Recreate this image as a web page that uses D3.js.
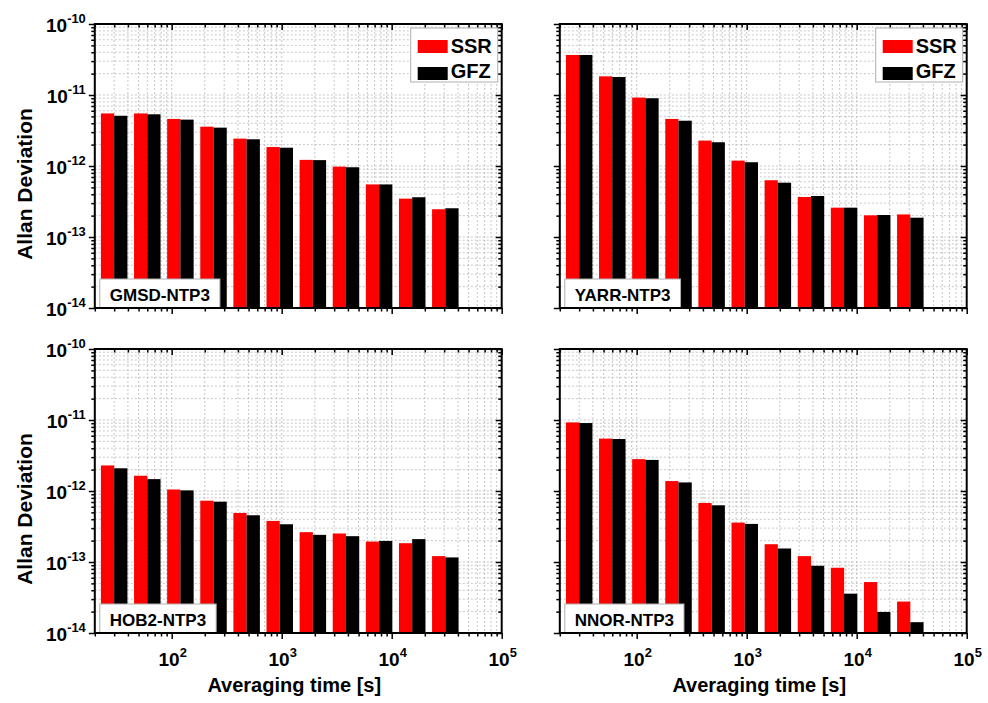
<!DOCTYPE html>
<html>
<head>
<meta charset="utf-8">
<script src="https://cdn.jsdelivr.net/npm/d3@7"></script>
<style>
  html, body { margin: 0; padding: 0; background: #fff; }
  svg { display: block; font-family: "Liberation Sans", Arial, Helvetica, sans-serif; }
</style>
</head>
<body>
<svg id="chart" width="988" height="703"></svg>
<script>
// Averaging times (s) of the bar groups
const tau = [30, 60, 120, 240, 480, 960, 1920, 3840, 7680, 15360, 30720];

// Series
const seriesNames = ["SSR", "GFZ"];
const seriesColors = ["#ff0000", "#000000"];

// Station panels
const stations = ["GMSD-NTP3", "YARR-NTP3", "HOB2-NTP3", "NNOR-NTP3"];

// Allan deviation values per station
const gmsdSSR = [5.5e-12, 5.5e-12, 4.6e-12, 3.58e-12, 2.43e-12, 1.85e-12, 1.22e-12, 9.8e-13, 5.5e-13, 3.47e-13, 2.46e-13];
const gmsdGFZ = [5.1e-12, 5.35e-12, 4.5e-12, 3.47e-12, 2.38e-12, 1.81e-12, 1.21e-12, 9.6e-13, 5.5e-13, 3.63e-13, 2.54e-13];

const yarrSSR = [3.66e-11, 1.83e-11, 9.2e-12, 4.6e-12, 2.28e-12, 1.19e-12, 6.3e-13, 3.66e-13, 2.59e-13, 2.02e-13, 2.08e-13];
const yarrGFZ = [3.66e-11, 1.79e-11, 9.0e-12, 4.34e-12, 2.16e-12, 1.13e-12, 5.82e-13, 3.78e-13, 2.59e-13, 2.04e-13, 1.87e-13];

const hob2SSR = [2.29e-12, 1.64e-12, 1.05e-12, 7.3e-13, 4.9e-13, 3.79e-13, 2.63e-13, 2.52e-13, 1.94e-13, 1.84e-13, 1.21e-13];
const hob2GFZ = [2.09e-12, 1.47e-12, 1.02e-12, 7.07e-13, 4.55e-13, 3.4e-13, 2.41e-13, 2.31e-13, 1.98e-13, 2.1e-13, 1.16e-13];

const nnorSSR = [9.25e-12, 5.47e-12, 2.81e-12, 1.38e-12, 6.78e-13, 3.59e-13, 1.78e-13, 1.21e-13, 8.3e-14, 5.22e-14, 2.77e-14];
const nnorGFZ = [9.06e-12, 5.4e-12, 2.74e-12, 1.32e-12, 6.29e-13, 3.44e-13, 1.55e-13, 8.85e-14, 3.58e-14, 1.98e-14, 1.42e-14];

const panelSeries = [
  [gmsdSSR, gmsdGFZ],
  [yarrSSR, yarrGFZ],
  [hob2SSR, hob2GFZ],
  [nnorSSR, nnorGFZ]
];

// Axis tick labels (powers of ten)
const xTickExponents = [2, 3, 4, 5];
const yTickExponents = [-10, -11, -12, -13, -14];

const xTitle = "Averaging time [s]";
const yTitle = "Allan Deviation";

// ---- layout ----
const svg = d3.select("#chart");
const colX = [94.8, 559.8];
const rowY = [24, 349];
const plotW = 406.9;
const plotH = 284;
const xDomain = [20, 1e5];
const yDomain = [1e-14, 1e-10];
const barFrac = 0.4;   // bar width as fraction of the factor-of-two spacing

// tick value lists
const xMinor = [], yMinor = [];
for (let e = 1; e <= 4; e++) for (let m = 2; m <= 9; m++) {
  const v = m * Math.pow(10, e);
  if (v >= xDomain[0] && v <= xDomain[1]) xMinor.push(v);
}
for (let e = -14; e <= -11; e++) for (let m = 2; m <= 9; m++) yMinor.push(m * Math.pow(10, e));
const xMajor = xTickExponents.map(e => Math.pow(10, e));
const yMajor = yTickExponents.map(e => Math.pow(10, e));

svg.append("rect").attr("width", 988).attr("height", 703).attr("fill", "#fff");

// "10" with a superscript exponent
function supLabel(g, x, y, exp, size, anchor) {
  const t = g.append("text")
    .attr("x", x).attr("y", y)
    .attr("text-anchor", anchor)
    .attr("font-weight", "bold")
    .attr("font-size", size)
    .attr("fill", "#000");
  t.append("tspan").text("10");
  t.append("tspan").attr("font-size", size * 0.68).attr("dy", -9.5).text(exp);
  return t;
}

stations.forEach((name, i) => {
  const col = i % 2, row = Math.floor(i / 2);
  const x0 = colX[col], y0 = rowY[row];
  const x = d3.scaleLog().domain(xDomain).range([x0, x0 + plotW]);
  const y = d3.scaleLog().domain(yDomain).range([y0 + plotH, y0]);
  const g = svg.append("g");

  // dotted grid at every major and minor decade step
  const grid = g.append("g").attr("stroke", "#b4b4b4").attr("stroke-width", 0.75)
    .attr("stroke-dasharray", "2,2");
  xMinor.concat(xMajor).forEach(v => {
    grid.append("line").attr("x1", x(v)).attr("x2", x(v))
      .attr("y1", y0).attr("y2", y0 + plotH);
  });
  yMinor.concat(yMajor).forEach(v => {
    grid.append("line").attr("x1", x0).attr("x2", x0 + plotW)
      .attr("y1", y(v)).attr("y2", y(v));
  });

  // bars: SSR left of each averaging time, GFZ right of it (log spacing)
  const step = Math.log10(2) * barFrac;
  panelSeries[i].forEach((vals, s) => {
    g.append("g").selectAll("rect").data(vals).join("rect")
      .attr("x", (d, k) => x(Math.pow(10, Math.log10(tau[k]) + (s - 1) * step)))
      .attr("width", (d, k) => x(Math.pow(10, Math.log10(tau[k]) + s * step)) -
                               x(Math.pow(10, Math.log10(tau[k]) + (s - 1) * step)))
      .attr("y", d => y(d))
      .attr("height", d => y(yDomain[0]) - y(d))
      .attr("fill", seriesColors[s]);
  });

  // station label box
  const lbl = g.append("g");
  const lt = lbl.append("text")
    .attr("font-weight", "bold").attr("font-size", 17)
    .attr("text-anchor", "middle").attr("fill", "#000").text(name);
  const tw = lt.node().getComputedTextLength();
  const bw = tw + 20, bh = 29;
  const bx = x0 + 5, by = y0 + plotH - bh;
  lbl.insert("rect", "text").attr("x", bx).attr("y", by).attr("width", bw).attr("height", bh)
    .attr("fill", "#fff").attr("stroke", "#b0b0b0").attr("stroke-width", 1);
  lt.attr("x", bx + bw / 2).attr("y", by + 22);

  // legend (top row)
  if (row === 0) {
    const lw = 87, lh = 54;
    const lx = x0 + plotW - 4 - lw, ly = y0 + 4;
    const lg = g.append("g");
    lg.append("rect").attr("x", lx).attr("y", ly).attr("width", lw).attr("height", lh)
      .attr("fill", "#fff").attr("stroke", "#b0b0b0").attr("stroke-width", 1);
    seriesNames.forEach((sn, s) => {
      lg.append("rect").attr("x", lx + 7).attr("y", ly + 12 + s * 27)
        .attr("width", 30).attr("height", 13).attr("fill", seriesColors[s]);
      lg.append("text").attr("x", lx + 40).attr("y", ly + 25 + s * 25)
        .attr("font-weight", "bold").attr("font-size", 20).attr("fill", "#000").text(sn);
    });
  }

  // axis ticks
  const axisG = g.append("g");
  const mk = (axis, tx, ty) => {
    const a = axisG.append("g").attr("transform", `translate(${tx},${ty})`).call(axis);
    a.select(".domain").remove();
    a.selectAll("line").attr("stroke", "#000").attr("stroke-width", 1.5);
  };
  // bottom ticks point out, top ticks point in
  mk(d3.axisBottom(x).tickValues(xMajor).tickSize(6).tickFormat(""), 0, y0 + plotH);
  mk(d3.axisBottom(x).tickValues(xMinor).tickSize(3.5).tickFormat(""), 0, y0 + plotH);
  mk(d3.axisBottom(x).tickValues(xMajor).tickSize(6).tickFormat(""), 0, y0);
  mk(d3.axisBottom(x).tickValues(xMinor).tickSize(3.5).tickFormat(""), 0, y0);
  // left ticks point out, right ticks point in
  mk(d3.axisLeft(y).tickValues(yMajor).tickSize(6).tickFormat(""), x0, 0);
  mk(d3.axisLeft(y).tickValues(yMinor).tickSize(3.5).tickFormat(""), x0, 0);
  mk(d3.axisLeft(y).tickValues(yMajor).tickSize(6).tickFormat(""), x0 + plotW, 0);
  mk(d3.axisLeft(y).tickValues(yMinor).tickSize(3.5).tickFormat(""), x0 + plotW, 0);

  // frame
  g.append("rect").attr("x", x0).attr("y", y0).attr("width", plotW).attr("height", plotH)
    .attr("fill", "none").attr("stroke", "#000").attr("stroke-width", 2);

  // tick labels and titles on the outer edges only
  if (col === 0) {
    yTickExponents.forEach(e => {
      supLabel(g, x0 - 9, y(Math.pow(10, e)) + 8, String(e), 19, "end");
    });
    g.append("text")
      .attr("transform", `translate(32,${y0 + plotH / 2 + 18}) rotate(-90)`)
      .attr("text-anchor", "middle").attr("font-weight", "bold").attr("font-size", 21)
      .attr("fill", "#000").text(yTitle);
  }
  if (row === 1) {
    xTickExponents.forEach(e => {
      supLabel(g, x(Math.pow(10, e)) + 1, y0 + plotH + 33, String(e), 19, "middle");
    });
    g.append("text")
      .attr("x", x0 + plotW / 2 - 4).attr("y", y0 + plotH + 59)
      .attr("text-anchor", "middle").attr("font-weight", "bold").attr("font-size", 20)
      .attr("fill", "#000").text(xTitle);
  }
});
</script>
</body>
</html>
